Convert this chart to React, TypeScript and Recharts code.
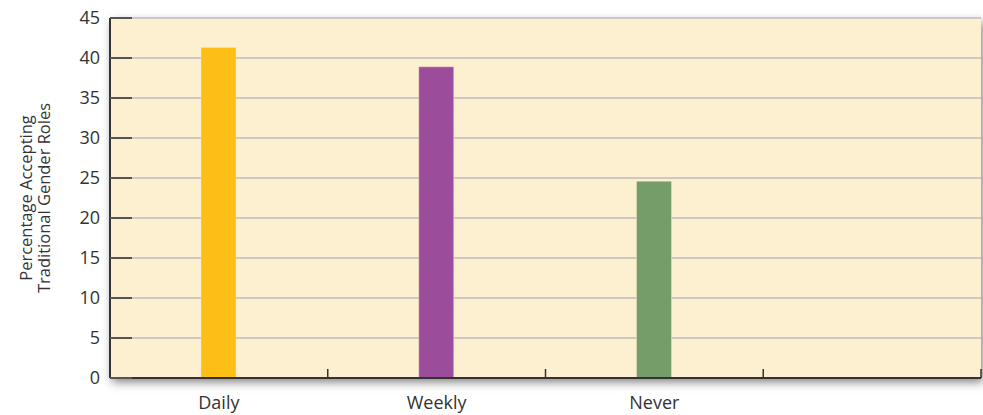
import React from 'react';
import { BarChart, Bar, XAxis, YAxis, CartesianGrid, Cell } from 'recharts';

const categories = ['Daily', 'Weekly', 'Never', ''];
const values = [41.3, 38.9, 24.6, null];
const barColors = ['#fdbf16', '#9b4c9b', '#759d69', '#ffffff'];
const yTicks = [0, 5, 10, 15, 20, 25, 30, 35, 40, 45];
const yLabelLines = ['Percentage Accepting', 'Traditional Gender Roles'];

const data = categories.map((name, i) => ({ name, value: values[i] }));

const W = 983;
const H = 415;
const margin = { top: 18, right: 2, left: 0, bottom: 0 };
const yAxisWidth = 110;
const xAxisHeight = 37;
const plotW = W - margin.left - margin.right - yAxisWidth;
const plotH = H - margin.top - margin.bottom - xAxisHeight;
const band = plotW / categories.length;
const font = '"Open Sans", "Noto Sans", sans-serif';

const YTick = (props: any) => {
  const { x, y, payload } = props;
  return (
    <g>
      <line x1={x + 10} x2={x + 32} y1={y} y2={y} stroke="#555" strokeWidth={2} />
      <text x={x} y={y} dy="0.35em" textAnchor="end" fill="#333" fontSize={18} fontFamily={font}>
        {payload.value}
      </text>
    </g>
  );
};

const XTick = (props: any) => {
  const { x, y, payload } = props;
  const axisY = margin.top + plotH;
  return (
    <g>
      <line x1={x + band / 2} x2={x + band / 2} y1={axisY} y2={axisY - 9} stroke="#333" strokeWidth={1.5} />
      <text x={x} y={y} dy="0.71em" textAnchor="middle" fill="#333" fontSize={18} fontFamily={font}>
        {payload.value}
      </text>
    </g>
  );
};

// two-line rotated axis title
const YLabel = () => (
  <g>
    {yLabelLines.map((line, i) => (
      <text
        key={line}
        x={0}
        y={0}
        transform={`translate(${25 + i * 18}, ${margin.top + plotH / 2}) rotate(-90)`}
        textAnchor="middle"
        dominantBaseline="central"
        fill="#333"
        fontSize={16.5}
        fontFamily={font}
      >
        {line}
      </text>
    ))}
  </g>
);

export default function App() {
  return (
    <div style={{ position: 'relative', width: W, height: H, background: '#fff' }}>
      <style>{`body{margin:0}`}</style>
      <div
        style={{
          position: 'absolute',
          left: margin.left + yAxisWidth,
          top: margin.top,
          width: plotW,
          height: plotH,
          background: '#fdf0d1',
          boxShadow: '2px 4px 9px rgba(0,0,0,0.5)',
        }}
      />
      <div style={{ position: 'absolute', left: 0, top: 0 }}>
        <BarChart width={W} height={H} data={data} margin={margin}>
          <CartesianGrid vertical={false} horizontal stroke="#bdbdbd" strokeWidth={1.5} />
          <XAxis
            dataKey="name"
            height={xAxisHeight}
            tick={<XTick />}
            tickLine={false}
            tickSize={0}
            tickMargin={18}
            axisLine={{ stroke: '#333', strokeWidth: 2 }}
            interval={0}
          />
          <YAxis
            domain={[0, 45]}
            ticks={yTicks}
            width={yAxisWidth}
            tick={<YTick />}
            tickLine={false}
            tickSize={0}
            tickMargin={10}
            axisLine={{ stroke: '#333', strokeWidth: 2 }}
            label={<YLabel />}
          />
          <Bar dataKey="value" barSize={35} isAnimationActive={false} stroke="#f5e3c0" strokeWidth={0.5}>
            {data.map((d, i) => (
              <Cell key={d.name + i} fill={barColors[i]} />
            ))}
          </Bar>
        </BarChart>
      </div>
    </div>
  );
}
